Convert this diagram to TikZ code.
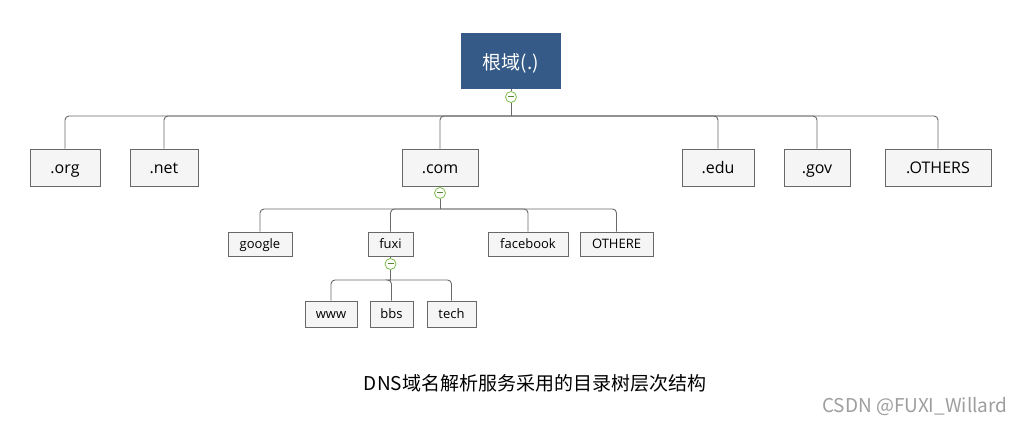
\documentclass[tikz,border=0pt]{standalone}
\usepackage{fontspec}
\setmainfont{Open Sans}
\newfontfamily\cjk{Noto Sans CJK SC}
\definecolor{rootblue}{HTML}{355A87}
\definecolor{boxfill}{HTML}{F5F5F5}
\definecolor{boxline}{HTML}{686868}
\definecolor{linkline}{HTML}{6A6A6A}
\definecolor{togglegreen}{HTML}{7DBE4A}
\definecolor{wmgray}{HTML}{9E9E9E}
\begin{document}
\begin{tikzpicture}[x=1pt,y=-1pt,
  tbox/.style={draw=boxline,fill=boxfill,line width=0.9pt,inner sep=0pt,anchor=center},
  lvlone/.style={tbox,minimum height=37pt,text height=11.4pt,text depth=0pt,font=\fontsize{16}{18}\selectfont},
  lvltwo/.style={tbox,minimum height=24pt,text height=9.3pt,text depth=0pt,font=\fontsize{13}{15}\selectfont},
  lvlthree/.style={tbox,minimum height=26pt,text height=9.3pt,text depth=0pt,font=\fontsize{13}{15}\selectfont},
  toggle/.style={circle,draw=togglegreen,fill=white,line width=0.8pt,minimum size=11pt,inner sep=0pt},
  link/.style={draw=linkline,line width=0.9pt},
  branch/.style={link,rounded corners=4pt}]
\useasboundingbox (0,0) rectangle (1025,427);
\fill[white] (0,0) rectangle (1025,427);

% root
\node[fill=rootblue,text=white,minimum width=100pt,minimum height=56pt,inner sep=0pt,
  text height=18pt,text depth=0pt,
  font=\cjk\fontsize{19}{21}\selectfont] (root) at (511,61) {根域(.)};

% level one
\node[lvlone,minimum width=70pt] (org) at (65,167.5) {.org};
\node[lvlone,minimum width=68pt] (net) at (164,167.5) {.net};
\node[lvlone,minimum width=76pt] (com) at (440,167.5) {.com};
\node[lvlone,minimum width=72pt] (edu) at (718,167.5) {.edu};
\node[lvlone,minimum width=66pt] (gov) at (817,167.5) {.gov};
\node[lvlone,minimum width=106pt] (others) at (938,167.5) {.OTHERS};

% level two
\node[lvltwo,minimum width=64pt] (google) at (260,244) {google};
\node[lvltwo,minimum width=45pt] (fuxi) at (390.5,244) {fuxi};
\node[lvltwo,minimum width=80pt] (facebook) at (528,244) {facebook};
\node[lvltwo,minimum width=73pt] (othere) at (616.5,244) {OTHERE};

% level three
\node[lvlthree,minimum width=52pt] (www) at (331,314) {www};
\node[lvlthree,minimum width=43pt] (bbs) at (391.5,314) {bbs};
\node[lvlthree,minimum width=49pt] (tech) at (451.5,314) {tech};

% toggles
\node[toggle] (t0) at (511,97) {};
\node[toggle] (t1) at (440,193) {};
\node[toggle] (t2) at (390.5,264) {};

% junctions
\coordinate (j0) at (511,116);
\coordinate (j1) at (440,209);
\coordinate (j2) at (390.5,280);

% connectors root
\draw[link] (root.south) -- (t0.north);
\draw[link] (t0.south) -- (j0);
\foreach \c in {org,net,com,edu,gov,others}
  \draw[branch] (j0) -| (\c.north);

% connectors .com
\draw[link] (com.south) -- (t1.north);
\draw[link] (t1.south) -- (j1);
\foreach \c in {google,fuxi,facebook,othere}
  \draw[branch] (j1) -| (\c.north);

% connectors fuxi
\draw[link] (fuxi.south) -- (t2.north);
\draw[link] (t2.south) -- (j2);
\foreach \c in {www,bbs,tech}
  \draw[branch] (j2) -| (\c.north);

% toggle minus signs
\foreach \t in {t0,t1,t2}
  \draw[togglegreen!70!black,line width=1pt] ([xshift=-3pt]\t.center) -- ([xshift=3pt]\t.center);

% caption
\node[font=\cjk\fontsize{19}{21}\selectfont] (caption) at (535,383) {DNS域名解析服务采用的目录树层次结构};

% watermark
\node[font=\cjk\fontsize{19}{21}\selectfont,text=wmgray,anchor=east] (wm) at (1011,407) {CSDN @FUXI\_Willard};
\end{tikzpicture}
\end{document}
